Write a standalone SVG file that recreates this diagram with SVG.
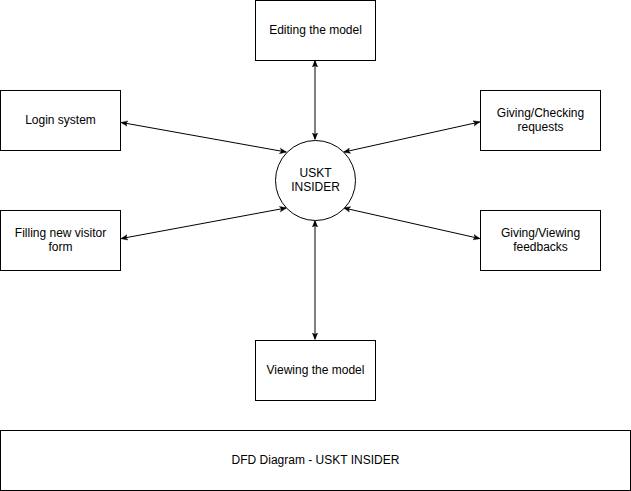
<svg xmlns="http://www.w3.org/2000/svg" width="631" height="491" viewBox="0 0 631 491">
<style>
.box{fill:#fff;stroke:#000;stroke-width:1}
.t{font-family:"Liberation Sans",Arial,sans-serif;font-size:12px;fill:#000;text-anchor:middle}
.c{stroke:#000;stroke-width:1;fill:none;marker-start:url(#a);marker-end:url(#a)}
</style>
<defs>
<marker id="a" viewBox="0 0 10 10" refX="9" refY="5" markerWidth="7" markerHeight="7" orient="auto-start-reverse" markerUnits="userSpaceOnUse">
<path d="M0,1 L10,5 L0,9 L2.5,5 Z" fill="#000" stroke="#000" stroke-width="0.5"/>
</marker>
</defs>
<rect width="631" height="491" fill="#fff"/>
<g id="connectors">
<line class="c" x1="315" y1="61" x2="315" y2="139"/>
<line class="c" x1="315" y1="221" x2="315" y2="339"/>
<line class="c" x1="121.5" y1="122.5" x2="286" y2="152"/>
<line class="c" x1="344" y1="152" x2="479.5" y2="122"/>
<line class="c" x1="121.5" y1="238.5" x2="286" y2="208"/>
<line class="c" x1="344" y1="208" x2="479.5" y2="238.5"/>
</g>
<g id="editing"><rect class="box" x="255.5" y="0.5" width="120" height="60"/><text class="t" x="315.5" y="34">Editing the model</text></g>
<g id="login"><rect class="box" x="0.5" y="90.5" width="120" height="60"/><text class="t" x="60.5" y="124">Login system</text></g>
<g id="requests"><rect class="box" x="480.5" y="90.5" width="120" height="60"/><text class="t" x="540.5" y="117">Giving/Checking</text><text class="t" x="540.5" y="131">requests</text></g>
<g id="center"><circle class="box" cx="315.5" cy="180.5" r="40"/><text class="t" x="315.5" y="177">USKT</text><text class="t" x="315.5" y="191">INSIDER</text></g>
<g id="visitor"><rect class="box" x="0.5" y="210.5" width="120" height="60"/><text class="t" x="60.5" y="237">Filling new visitor</text><text class="t" x="60.5" y="251">form</text></g>
<g id="feedbacks"><rect class="box" x="480.5" y="210.5" width="120" height="60"/><text class="t" x="540.5" y="237">Giving/Viewing</text><text class="t" x="540.5" y="251">feedbacks</text></g>
<g id="viewing"><rect class="box" x="255.5" y="340.5" width="120" height="60"/><text class="t" x="315.5" y="374">Viewing the model</text></g>
<g id="title"><rect class="box" x="0.5" y="430.5" width="630" height="60"/><text class="t" x="315.5" y="464">DFD Diagram - USKT INSIDER</text></g>
</svg>
